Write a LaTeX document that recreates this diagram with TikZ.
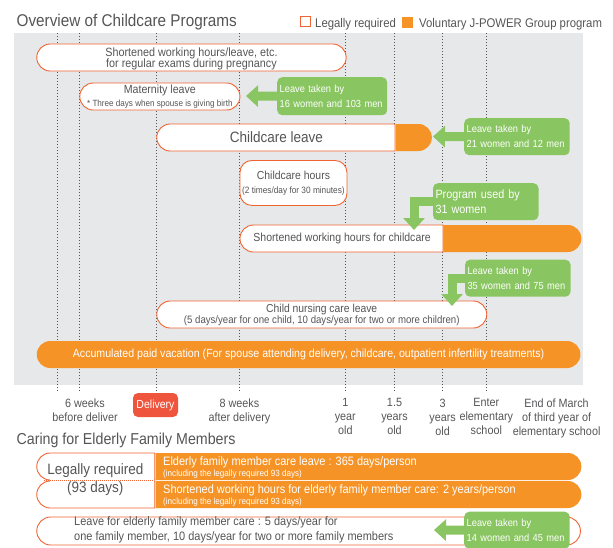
\documentclass[tikz,border=0pt]{standalone}
\usepackage{fontspec}
\setmainfont{Liberation Sans}[FakeStretch=0.9]
\usetikzlibrary{shapes.misc,arrows.meta,positioning}
\definecolor{myorange}{RGB}{246,147,38}
\definecolor{myline}{RGB}{239,100,50}
\definecolor{mygreen}{RGB}{137,197,96}
\definecolor{mypanel}{RGB}{231,232,234}
\definecolor{mytext}{RGB}{85,85,87}
\definecolor{myred}{RGB}{239,84,61}
\newcommand{\fs}[2]{\fontsize{#1}{#2}\selectfont}

\begin{document}
\begin{tikzpicture}[
  x=1pt, y=-1pt,
  every node/.style={inner sep=0pt, text=mytext},
  guide/.style={mytext, line width=0.9pt, dash pattern=on 1.3pt off 1.7pt},
  pill/.style={
    rounded rectangle,
    draw=myline, line width=0.9pt, fill=white,
    minimum height=27pt, minimum width=#1,
    anchor=west, align=center
  },
  pillL/.style={pill=#1, rounded rectangle east arc=none},
  pillR/.style={pill=#1, rounded rectangle west arc=none, draw=none, fill=myorange},
  callout/.style={
    rectangle, rounded corners=5pt, fill=mygreen,
    text=white, align=left, anchor=north west,
    inner xsep=2.5pt, font=\fs{10.3}{15}
  },
  callarrow/.style={
    draw=mygreen, line width=9pt,
    -{Triangle[width=21pt,length=12pt]}
  },
  axislabel/.style={anchor=north, align=center, font=\fs{12}{14}}
]
\useasboundingbox (0,0) rectangle (613,547);

% panel and time grid
\fill[mypanel] (14,33) rectangle (583,385);
\foreach \xpos in {57.8,79.3,156.3,239.5,345.3,394.5,442.6,486.3}
  \draw[guide] (\xpos,33) -- (\xpos,391);

\node[anchor=base west, font=\fs{17}{20}] (title) at (16.4,26) {Overview of Childcare Programs};
\node[draw=myline, line width=0.9pt, fill=white, minimum size=10pt, anchor=south west] (legwhite) at (299.5,27.3) {};
\node[anchor=base west, font=\fs{12.6}{15}] (legwhitetxt) at (315,27.3) {Legally required};
\node[fill=myorange, minimum size=11pt, anchor=south west] (legorange) at (402,27.8) {};
\node[anchor=base west, font=\fs{12.6}{15}] (legorangetxt) at (419,27.3) {Voluntary J-POWER Group program};

% childcare programs
\node[pill=309.4pt, font=\fs{12}{12}, text depth=0pt] (pregnancy) at (36.3,57.5)
  {Shortened working hours/leave, etc.\\[-0.5pt]for regular exams during pregnancy};
\node[pill=160.2pt, font=\fs{11.8}{12.7}] (maternity) at (79.3,96.5)
  {Maternity leave\\{\fs{9}{10}* Three days when spouse is giving birth}};
\node[pillL=238.2pt, font=\fs{15}{18}] (ccleave) at (156.3,137.5) {Childcare leave};
\node[pillR=36pt, right=0pt of ccleave] (ccleaveext) {};
\node[draw=myline, line width=0.9pt, fill=white, rounded corners=12pt,
  minimum width=107pt, minimum height=45pt, anchor=north west,
  align=center, font=\fs{11.6}{14}] (cchours) at (239.5,160)
  {Childcare hours\\{\fs{9.2}{11}(2 times/day for 30 minutes)}};
\node[pillL=203.1pt, font=\fs{11.7}{13}] (shorthours) at (239.5,238.5) {Shortened working hours for childcare};
\node[pillR=137.4pt, right=0pt of shorthours] (shorthoursext) {};
\node[pill=330pt, font=\fs{11.5}{11}] (nursing) at (156.3,314.5)
  {Child nursing care leave\\{\fs{10.7}{11}(5 days/year for one child, 10 days/year for two or more children)}};
\node[pill=543.7pt, draw=none, fill=myorange, text=white, font=\fs{11.8}{13}] (vacation) at (36.3,354.5)
  {Accumulated paid vacation (For spouse attending delivery, childcare, outpatient infertility treatments)};

\node[callout, text width=105pt, minimum height=38pt] (leave1) at (277,77) {Leave~taken~by\\16~women~and~103~men};
\node[callout, text width=100.5pt, minimum height=37pt] (leave2) at (464,118) {Leave~taken~by\\21~women~and~12~men};
\node[callout, text width=100.5pt, minimum height=37pt, font=\fs{12}{15}] (used3) at (432.8,183) {Program~used~by\\31~women};
\node[callout, text width=100.5pt, minimum height=37pt] (leave4) at (464.8,259.5) {Leave~taken~by\\35~women~and~75~men};

\coordinate (tip1) at (246,96);
\coordinate (tip2) at (433,136.5);
\coordinate (tip3) at (414,230);
\coordinate (tip4) at (452,306);
\draw[callarrow] (leave1.west) -- (tip1);
\draw[callarrow] (leave2.west) -- (tip2);
\draw[callarrow] (used3.west) -| (tip3);
\draw[callarrow] (leave4.west) -| (tip4);

% time axis
\foreach \xpos/\txt [count=\i] in {85/{6 weeks\\before deliver}, 239.5/{8 weeks\\after delivery},
    345.3/{1\\year\\old}, 394.5/{1.5\\years\\old}, 442.6/{3\\years\\old},
    486.3/{Enter\\elementary\\school}, 556.6/{End of March\\of third year of\\elementary school}}
  \node[axislabel] (axis\i) at (\xpos,398.5) {\txt};
\node[rounded corners=5pt, fill=myred, text=white, minimum width=45pt, minimum height=24pt,
  font=\fs{11.7}{14}] (delivery) at (155.5,405) {Delivery};

% elderly family members
\node[anchor=base west, font=\fs{15.8}{18}] (caretitle) at (16.4,444) {Caring for Elderly Family Members};
\node[pillL=118pt] (legalA) at (36.3,466.5) {};
\node[pillR=425.7pt, right=0pt of legalA] (careleave) {};
\node[pillL=118pt] (legalB) at (36.3,494.5) {};
\node[pillR=425.7pt, right=0pt of legalB] (careshort) {};
\fill[white] (49.8,479.3) rectangle (153.8,481.7);
\draw[myline, line width=0.8pt, dash pattern=on 1pt off 1pt] (44,480.5) -- (154,480.5);
\node[align=center, font=\fs{15}{18}] (legaltxt) at (95.3,479.5) {Legally required\\(93 days)};
\node[anchor=west, align=left, text=white, font=\fs{12.2}{11}] (careleavetxt) at (163,468)
  {Elderly family member care leave : 365 days/person\\{\fs{9}{10}(including the legally required 93 days)}};
\node[anchor=west, align=left, text=white, font=\fs{12.2}{11}] (careshorttxt) at (163,495.5)
  {Shortened working hours for elderly family member care: 2 years/person\\{\fs{9}{10}(including the legally required 93 days)}};
\node[pill=543.7pt, minimum height=28pt] (eldleave) at (36.3,531) {};
\node[anchor=west, align=left, font=\fs{12.2}{15}] (eldleavetxt) at (74,529.5)
  {Leave for elderly family member care : 5 days/year for\\one family member, 10 days/year for two or more family members};
\node[callout, text width=100.5pt, minimum height=37pt] (leave5) at (464,511.5) {Leave~taken~by\\14~women~and~45~men};
\coordinate (tip5) at (434,530);
\draw[callarrow] (leave5.west) -- (tip5);
\end{tikzpicture}
\end{document}
